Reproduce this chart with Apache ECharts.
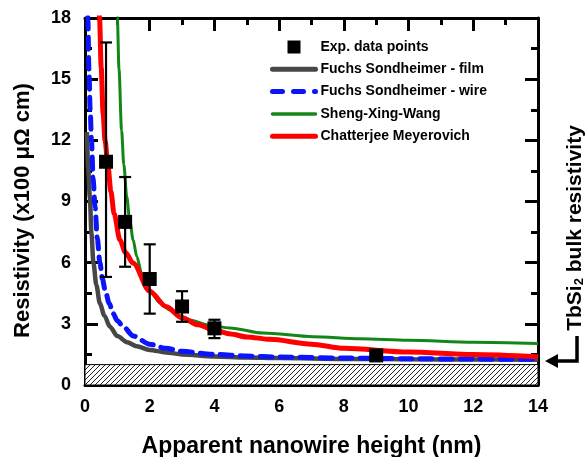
<!DOCTYPE html>
<html>
<head>
<meta charset="utf-8">
<script src="https://cdn.jsdelivr.net/npm/echarts@6/dist/echarts.min.js"></script>
<style>
  html, body { margin: 0; padding: 0; background: #fff; }
  #chart { width: 585px; height: 457px; }
</style>
</head>
<body>
<div id="chart"></div>
<script>
// Measured resistivity of the nanowires (x100 µΩ cm) vs apparent height (nm)
const expHeight = [0.65, 1.24, 2.0, 3.0, 4.0, 9.0];
const expRho    = [10.95, 8.0, 5.2, 3.85, 2.78, 1.45];
const expLow    = [5.3, 5.8, 3.5, 3.1, 2.3, 1.2];
const expHigh   = [16.8, 10.2, 6.9, 4.6, 3.2, 1.7];

// Bulk resistivity of TbSi2 (hatched band)
const bulkRho = 1.0;

// Model curves, [height, resistivity]
const fsFilm = [
  [0.06, 12.4], [0.1, 10.6], [0.15, 9.2], [0.2, 7.4], [0.26, 6.0], [0.35, 4.9],
  [0.46, 4.0], [0.6, 3.4], [0.77, 2.86], [1.0, 2.4], [1.3, 2.1], [1.6, 1.9],
  [2.0, 1.72], [2.5, 1.6], [3.0, 1.5], [4.0, 1.4], [5.0, 1.35], [6.0, 1.32],
  [8.0, 1.28], [10.0, 1.26], [12.0, 1.25], [14.0, 1.24]
];
const fsWire = [
  [0.07, 20], [0.09, 17.9], [0.12, 15.5], [0.16, 13.5], [0.2, 12.0], [0.25, 10.2],
  [0.31, 8.74], [0.38, 7.2], [0.46, 6.0], [0.54, 5.2], [0.62, 4.66], [0.75, 4.0],
  [0.87, 3.5], [1.0, 3.15], [1.18, 2.86], [1.5, 2.4], [2.0, 2.0], [2.5, 1.8],
  [3.0, 1.65], [4.0, 1.5], [5.0, 1.42], [6.0, 1.37], [8.0, 1.32], [10.0, 1.29],
  [12.0, 1.27], [14.0, 1.26]
];
const shengXingWang = [
  [0.97, 20], [1.0, 18], [1.05, 15.5], [1.13, 12.5], [1.2, 10.8], [1.29, 9.24],
  [1.38, 8.1], [1.49, 7.1], [1.6, 6.3], [1.75, 5.48], [1.9, 4.95], [2.06, 4.5],
  [2.3, 4.05], [2.63, 3.68], [3.0, 3.35], [3.24, 3.19], [3.8, 2.95], [4.48, 2.8],
  [5.5, 2.55], [7.05, 2.37], [8.5, 2.27], [10.0, 2.2], [12.0, 2.1], [14.0, 2.04]
];
const chatterjee = [
  [0.42, 20], [0.45, 18], [0.5, 15.6], [0.56, 13.3], [0.62, 12.0], [0.7, 10.9],
  [0.8, 9.5], [0.9, 8.4], [1.08, 7.1], [1.25, 6.5], [1.49, 5.97], [2.0, 4.6],
  [2.5, 3.85], [3.0, 3.3], [3.5, 2.95], [4.0, 2.68], [4.5, 2.5], [5.0, 2.36],
  [5.72, 2.24], [7.0, 2.0], [8.0, 1.8], [10.0, 1.62], [12.0, 1.5], [14.0, 1.39]
];

const xTicks = { min: 0, max: 14, interval: 2 };
const yTicks = { min: 0, max: 18, interval: 3 };

const FONT = '"Liberation Sans", Arial, sans-serif';

// Diagonal hatch tile for the bulk-resistivity band
function hatchTile() {
  const s = 5;
  const c = document.createElement('canvas');
  c.width = s; c.height = s;
  const g = c.getContext('2d');
  g.fillStyle = '#fff';
  g.fillRect(0, 0, s, s);
  g.strokeStyle = '#222';
  g.lineWidth = 1;
  g.beginPath();
  g.moveTo(0, s); g.lineTo(s, 0);
  g.moveTo(-1, 1); g.lineTo(1, -1);
  g.moveTo(s - 1, s + 1); g.lineTo(s + 1, s - 1);
  g.stroke();
  return c;
}

const frameLine = { show: true, onZero: false, lineStyle: { color: '#000', width: 3 } };
const tickStyle = { show: true, inside: true, length: 13, lineStyle: { color: '#000', width: 3 } };
const minorStyle = { show: true, splitNumber: 2, length: 7, lineStyle: { color: '#000', width: 3 } };
const labelStyle = { fontSize: 18, fontWeight: 'bold', color: '#000', fontFamily: FONT };
const nameStyle = { fontSize: 23, fontWeight: 'bold', color: '#000', fontFamily: FONT };

// legend entries for the model curves: thick line only, no marker
const lineOnly = (name, width, type) => ({
  name,
  itemStyle: { opacity: 0, borderWidth: 0 },
  lineStyle: { width, type: type || 'solid', cap: 'round' }
});

const chart = echarts.init(document.getElementById('chart'), null, { renderer: 'canvas' });

chart.setOption({
  animation: false,
  backgroundColor: '#fff',
  grid: {
    left: 85, right: 47, top: 18, bottom: 72,
    containLabel: false, outerBoundsMode: 'none'
  },
  legend: {
    orient: 'vertical',
    left: 270,
    top: 40,
    padding: 0,
    itemWidth: 43,
    itemHeight: 13,
    itemGap: 8.3,
    selectedMode: false,
    textStyle: { fontSize: 14, fontWeight: 'bold', color: '#000', fontFamily: FONT },
    data: [
      { name: 'Exp. data points', icon: 'path://M0,0L10,0L10,10L0,10Z', itemStyle: { opacity: 1 } },
      lineOnly('Fuchs Sondheimer - film', 5),
      lineOnly('Fuchs Sondheimer - wire', 5, [10, 11]),
      lineOnly('Sheng-Xing-Wang', 3.5),
      lineOnly('Chatterjee Meyerovich', 5)
    ]
  },
  xAxis: [
    {
      type: 'value', position: 'bottom', ...xTicks,
      axisLine: frameLine, axisTick: tickStyle, minorTick: minorStyle,
      splitLine: { show: false },
      axisLabel: { ...labelStyle, margin: 13 },
      name: 'Apparent nanowire height (nm)',
      nameLocation: 'middle', nameGap: 50, nameTextStyle: nameStyle
    },
    {
      type: 'value', position: 'top', ...xTicks,
      axisLine: frameLine, axisTick: tickStyle, minorTick: minorStyle,
      splitLine: { show: false }, axisLabel: { show: false }
    }
  ],
  yAxis: [
    {
      type: 'value', position: 'left', ...yTicks,
      axisLine: frameLine, axisTick: tickStyle, minorTick: minorStyle,
      splitLine: { show: false },
      axisLabel: { ...labelStyle, margin: 14 },
      name: 'Resistivity (x100 \u03bc\u03a9 cm)',
      nameLocation: 'middle', nameGap: 51,
      nameTextStyle: { ...nameStyle, fontSize: 22, padding: [0, 18, 0, 0] }
    },
    {
      type: 'value', position: 'right', ...yTicks,
      axisLine: frameLine, axisTick: tickStyle, minorTick: minorStyle,
      splitLine: { show: false }, axisLabel: { show: false }
    }
  ],
  series: [
    {
      name: 'Fuchs Sondheimer - film',
      type: 'line', data: fsFilm, symbol: 'none', clip: true,
      smooth: 0.3, smoothMonotone: 'x',
      lineStyle: { color: '#474747', width: 4.5 },
      itemStyle: { color: '#474747' },
      z: 2,
      markArea: {
        silent: true,
        itemStyle: {
          color: { image: hatchTile(), repeat: 'repeat' },
          borderColor: '#000', borderWidth: 1
        },
        data: [[{ xAxis: xTicks.min, yAxis: 0 }, { xAxis: xTicks.max, yAxis: bulkRho }]]
      }
    },
    {
      name: 'Fuchs Sondheimer - wire',
      type: 'line', data: fsWire, symbol: 'none', clip: true,
      smooth: 0.3, smoothMonotone: 'x',
      lineStyle: { color: '#0a14ff', width: 5, type: [12, 8], cap: 'round' },
      itemStyle: { color: '#0a14ff' },
      z: 3
    },
    {
      name: 'Sheng-Xing-Wang',
      type: 'line', data: shengXingWang, symbol: 'none', clip: true,
      smooth: 0.3, smoothMonotone: 'x',
      lineStyle: { color: '#13861a', width: 3 },
      itemStyle: { color: '#13861a' },
      z: 3
    },
    {
      name: 'Chatterjee Meyerovich',
      type: 'line', data: chatterjee, symbol: 'none', clip: true,
      smooth: 0.3, smoothMonotone: 'x',
      lineStyle: { color: '#ff0000', width: 5 },
      itemStyle: { color: '#ff0000' },
      z: 4
    },
    {
      name: 'error bars',
      type: 'custom',
      data: expHeight.map((h, i) => [h, expLow[i], expHigh[i]]),
      encode: { x: 0, y: [1, 2] },
      z: 5,
      silent: true,
      renderItem(params, api) {
        const x = api.value(0);
        const lo = api.coord([x, api.value(1)]);
        const hi = api.coord([x, api.value(2)]);
        const w = 6;
        const st = { stroke: '#000', lineWidth: 2.2 };
        return {
          type: 'group',
          children: [
            { type: 'line', shape: { x1: lo[0], y1: lo[1], x2: hi[0], y2: hi[1] }, style: st },
            { type: 'line', shape: { x1: lo[0] - w, y1: lo[1], x2: lo[0] + w, y2: lo[1] }, style: st },
            { type: 'line', shape: { x1: hi[0] - w, y1: hi[1], x2: hi[0] + w, y2: hi[1] }, style: st }
          ]
        };
      }
    },
    {
      name: 'Exp. data points',
      type: 'scatter',
      data: expHeight.map((h, i) => [h, expRho[i]]),
      symbol: 'rect', symbolSize: 14,
      itemStyle: { color: '#000', opacity: 1 },
      z: 6
    }
  ],
  graphic: [
    {
      type: 'text',
      x: 575, y: 228,
      rotation: Math.PI / 2,
      style: {
        text: 'TbSi{s|2} bulk resistivity',
        fontSize: 21, fontWeight: 'bold', fontFamily: FONT, fill: '#000',
        align: 'center', verticalAlign: 'middle',
        rich: {
          s: { fontSize: 13, fontWeight: 'bold', fontFamily: FONT, fill: '#000', padding: [9, 0, 0, 0] }
        }
      }
    },
    {
      type: 'polyline',
      shape: { points: [[577, 336], [577, 361], [556, 361]] },
      style: { stroke: '#000', lineWidth: 3.5, fill: null }
    },
    {
      type: 'polygon',
      shape: { points: [[545, 361], [558, 354], [558, 368]] },
      style: { fill: '#000' }
    }
  ]
});
</script>
</body>
</html>
